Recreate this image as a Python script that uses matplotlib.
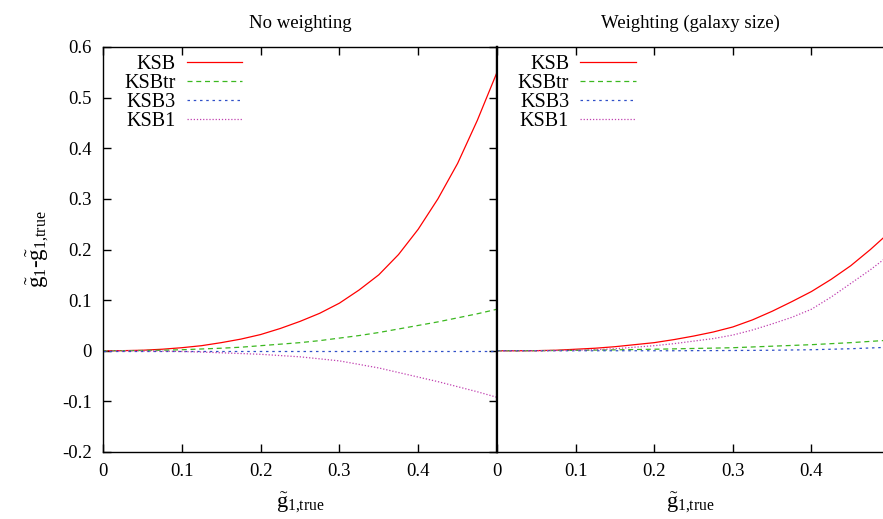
import numpy as np
import matplotlib
matplotlib.use("Agg")
import matplotlib.pyplot as plt

# shear bias vs true shear
g_true = [0.0, 0.025, 0.05, 0.075, 0.1, 0.125, 0.15, 0.175, 0.2, 0.225, 0.25,
          0.275, 0.3, 0.325, 0.35, 0.375, 0.4, 0.425, 0.45, 0.475, 0.5]

# left panel: no weighting
ksb_now = [0.0, 0.0002, 0.001, 0.003, 0.006, 0.010, 0.016, 0.023, 0.032, 0.044, 0.058,
           0.074, 0.094, 0.120, 0.150, 0.190, 0.240, 0.300, 0.370, 0.455, 0.550]
ksbtr_now = [0.0, 0.0001, 0.0005, 0.001, 0.002, 0.0035, 0.005, 0.007, 0.010, 0.013, 0.016,
             0.020, 0.025, 0.030, 0.036, 0.043, 0.050, 0.057, 0.065, 0.073, 0.082]
ksb3_now = [0.0] * 21
ksb1_now = [0.0, -0.0001, -0.0003, -0.0008, -0.0015, -0.0025, -0.004, -0.0055, -0.007, -0.0095, -0.012,
            -0.016, -0.020, -0.027, -0.034, -0.043, -0.052, -0.061, -0.071, -0.081, -0.092]

# right panel: weighting by galaxy size
ksb_w = [0.0, 0.0, 0.0002, 0.001, 0.003, 0.005, 0.008, 0.012, 0.016, 0.022, 0.029,
         0.037, 0.047, 0.061, 0.078, 0.097, 0.117, 0.141, 0.168, 0.200, 0.235]
ksbtr_w = [0.0, 0.0001, 0.0002, 0.0005, 0.0008, 0.0013, 0.0018, 0.0024, 0.003, 0.0037, 0.0045,
           0.0052, 0.006, 0.0075, 0.009, 0.0105, 0.012, 0.014, 0.016, 0.0185, 0.021]
ksb3_w = [0.0, 0.0, 0.0, 0.0, 0.0, 0.0, 0.0, 0.0, 0.0, 0.0, 0.0002,
          0.0003, 0.0005, 0.0007, 0.001, 0.0015, 0.002, 0.003, 0.004, 0.0055, 0.007]
ksb1_w = [0.0, 0.0, 0.0001, 0.0005, 0.001, 0.002, 0.004, 0.007, 0.010, 0.014, 0.019,
          0.024, 0.031, 0.041, 0.053, 0.066, 0.082, 0.106, 0.133, 0.160, 0.190]

labels = ["KSB", "KSBtr", "KSB3", "KSB1"]
titles = ["No weighting", "Weighting (galaxy size)"]

plt.rcParams["font.family"] = ["Liberation Serif", "DejaVu Serif"]
plt.rcParams["mathtext.fontset"] = "custom"
plt.rcParams["mathtext.rm"] = "Liberation Serif"
plt.rcParams["mathtext.it"] = "Liberation Serif:italic"
plt.rcParams["axes.unicode_minus"] = False
plt.rcParams["font.size"] = 13.5

styles = [
    dict(color="#ff0000", linestyle="-"),
    dict(color="#3cb820", linestyle=(0, (4, 3))),
    dict(color="#3050c8", linestyle=(0, (2, 3))),
    dict(color="#c040b0", linestyle=(0, (1, 1.5))),
]

fig = plt.figure(figsize=(8.83, 5.19), dpi=100)
ax1 = fig.add_axes([103 / 883, 67 / 519, 394 / 883, 405 / 519])
ax2 = fig.add_axes([497 / 883, 67 / 519, 386 / 883, 405 / 519])

xlab = r"$\tilde{\mathrm{g}}_{1{,}\mathrm{true}}$"
ylab = r"$\tilde{\mathrm{g}}_1$-$\tilde{\mathrm{g}}_{1{,}\mathrm{true}}$"

panels = [
    (ax1, [ksb_now, ksbtr_now, ksb3_now, ksb1_now], 0.5),
    (ax2, [ksb_w, ksbtr_w, ksb3_w, ksb1_w], 0.491),
]

for i, (ax, series, xmax) in enumerate(panels):
    for ys, lab, st in zip(series, labels, styles):
        ax.plot(g_true, ys, lw=0.9, label=lab, **st)
    ax.set_xlim(0, xmax)
    ax.set_ylim(-0.2, 0.6)
    ax.set_xticks([0, 0.1, 0.2, 0.3, 0.4])
    ax.set_xticklabels(["0", "0.1", "0.2", "0.3", "0.4"])
    ax.set_title(titles[i], fontsize=13.5, pad=14)
    ax.set_xlabel(xlab, fontsize=16, labelpad=7)
    ax.tick_params(direction="in", length=6, width=1, top=True, pad=8)
    for s in ax.spines.values():
        s.set_linewidth(1.0)
    ax.legend(loc="upper left", frameon=False, markerfirst=False, fontsize=14.5,
              handlelength=2.75, handletextpad=0.55, labelspacing=0.0,
              borderaxespad=0.0, bbox_to_anchor=(0.033, 1.0))

ax1.set_yticks(np.arange(-0.2, 0.61, 0.1))
ax1.set_yticklabels(["-0.2", "-0.1", "0", "0.1", "0.2", "0.3", "0.4", "0.5", "0.6"])
ax1.tick_params(axis="y", right=True)
ax1.set_ylabel(ylab, fontsize=16.5, labelpad=8)
ax1.spines["right"].set_linewidth(1.6)

ax2.set_yticks([])
ax2.spines["right"].set_visible(False)
ax2.spines["left"].set_linewidth(1.6)

fig.savefig("out.png", dpi=100)
